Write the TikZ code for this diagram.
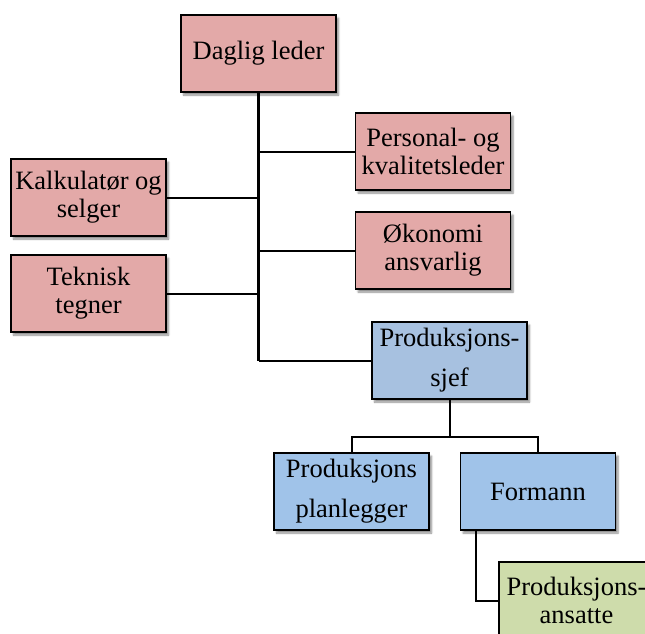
\documentclass[tikz,border=0pt]{standalone}
\usepackage{fontspec}
\setmainfont{Liberation Serif}
\usetikzlibrary{shadows.blur}
\definecolor{pinkbox}{RGB}{227,169,168}
\definecolor{bluesjef}{RGB}{167,193,224}
\definecolor{bluebox}{RGB}{160,195,233}
\definecolor{greenbox}{RGB}{206,220,171}
\tikzset{
  orgbox/.style={draw=black, line width=1.6pt, rectangle, minimum width=155pt, minimum height=77pt,
    inner sep=1pt, align=center, font=\fontsize{26.5}{28}\selectfont,
    blur shadow={shadow xshift=2.5pt, shadow yshift=-3pt, shadow blur steps=6, shadow opacity=45}},
  link/.style={draw=black, line width=2pt}
}
\begin{document}
\begin{tikzpicture}[x=1pt,y=-1pt]
\useasboundingbox (0,0) rectangle (645,634);
\clip (0,0) rectangle (645,634);
\node[orgbox, fill=pinkbox] (daglig) at (258.5,53.5) {Daglig leder};
\node[orgbox, fill=pinkbox] (personal) at (433,151.5) {Personal- og\\kvalitetsleder};
\node[orgbox, fill=pinkbox] (kalk) at (88.5,197.5) {Kalkulatør og\\selger};
\node[orgbox, fill=pinkbox] (okonomi) at (433,250.5) {Økonomi\\ansvarlig};
\node[orgbox, fill=pinkbox] (teknisk) at (88.5,293.5) {Teknisk\\tegner};
\node[orgbox, fill=bluesjef] (sjef) at (449.5,360.5) {Produksjons-\\[12pt]sjef};
\node[orgbox, fill=bluebox] (plan) at (351.5,491.5) {Produksjons\\[12pt]planlegger};
\node[orgbox, fill=bluebox] (formann) at (538,491.5) {Formann};
\node[orgbox, fill=greenbox] (ansatte) at (576.5,600.5) {Produksjons-\\ansatte};
\coordinate (j) at (449.5,437);
\coordinate (t) at (daglig.south |- sjef.west);
\draw[link, line width=2.6pt] (daglig.south) -- (t);
\draw[link] (t) -- (sjef.west);
\draw[link] (personal.west) -- (personal.west -| daglig.south);
\draw[link] (okonomi.west) -- (okonomi.west -| daglig.south);
\draw[link] (kalk.east) -- (kalk.east -| daglig.south);
\draw[link] (teknisk.east) -- (teknisk.east -| daglig.south);
\draw[link] (sjef.south) -- (j);
\draw[link] (plan.north) |- (j) -| (formann.north);
\draw[link] ([xshift=16pt]formann.south west) |- (ansatte.west);
\end{tikzpicture}
\end{document}
